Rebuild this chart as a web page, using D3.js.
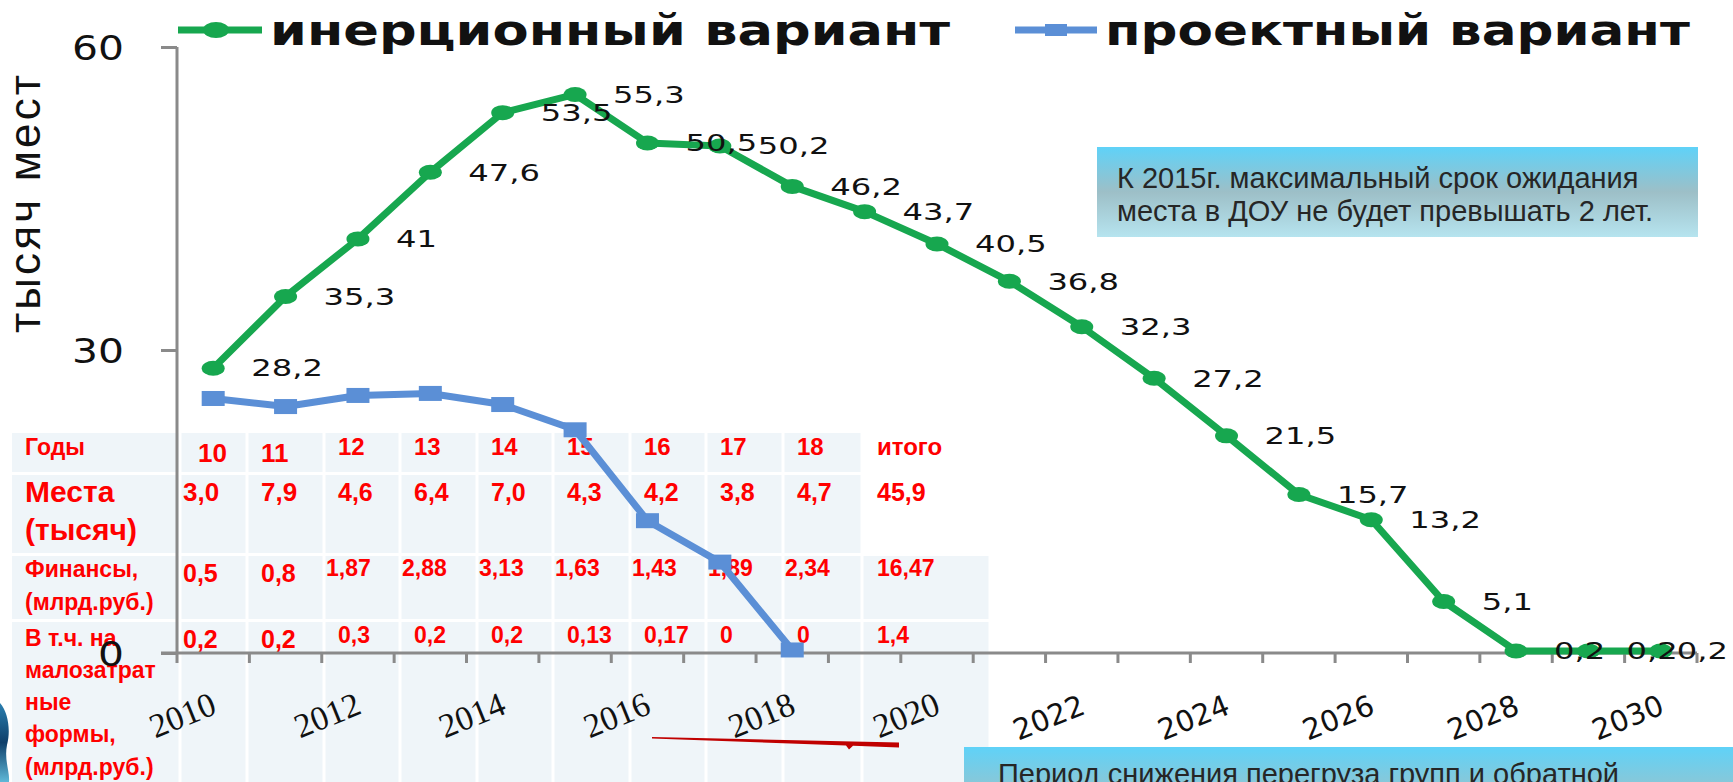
<!DOCTYPE html>
<html><head><meta charset="utf-8">
<script src="https://cdn.jsdelivr.net/npm/d3@7"></script>
<style>html,body{margin:0;padding:0;background:#fff;overflow:hidden}</style>
</head><body>
<svg id="c" width="1733" height="782" xmlns="http://www.w3.org/2000/svg"></svg>
<script>
// ---------------- DATA ----------------
const years = [2010,2011,2012,2013,2014,2015,2016,2017,2018,2019,2020,2021,2022,2023,2024,2025,2026,2027,2028,2029,2030];
const inertial = [28.2,35.3,41,47.6,53.5,55.3,50.5,50.2,46.2,43.7,40.5,36.8,32.3,27.2,21.5,15.7,13.2,5.1,0.2,0.2,0.2];
const projectYears = [2010,2011,2012,2013,2014,2015,2016,2017,2018];
const project = [25.2,24.4,25.5,25.7,24.6,22.1,13.1,9.0,0.3];
const seriesNames = ["инерционный вариант","проектный вариант"];
const yTicks = [0,30,60];
const xTickLabels = [2010,2012,2014,2016,2018,2020,2022,2024,2026,2028,2030];
const axisTitle = "тысяч  мест";

const tableRowLabels = [["Годы"],["Места","(тысяч)"],["Финансы,","(млрд.руб.)"],["В т.ч. на","малозатрат","ные","формы,","(млрд.руб.)"]];
const tableYears   = ["10","11","12","13","14","15","16","17","18","итого"];
const tablePlaces  = ["3,0","7,9","4,6","6,4","7,0","4,3","4,2","3,8","4,7","45,9"];
const tableFinance = ["0,5","0,8","1,87","2,88","3,13","1,63","1,43","1,89","2,34","16,47"];
const tableLowCost = ["0,2","0,2","0,3","0,2","0,2","0,13","0,17","0","0","1,4"];

const note1 = ["К 2015г. максимальный срок ожидания","места в ДОУ не будет превышать 2 лет."];
const note2 = ["Период снижения перегруза групп и обратной"];

// ---------------- LAYOUT ----------------
const svg = d3.select("#c");
const W = 1733, H = 782;
const X0 = 177, X1 = 1697, Y0 = 653, Ytop = 47;
const SX = 1.4;                 // horizontal stretch of chart texts
const GREEN = "#17a74f", BLUE = "#5b8fd6", AXIS = "#8a8a8a", RED = "#ff0000";
const chartFont = "DejaVu Sans, Verdana, sans-serif";
const tblFont = "Liberation Sans, Arial, sans-serif";
const serifFont = "Liberation Serif, Times New Roman, serif";

const x = d3.scaleBand().domain(years).range([X0, X1]).padding(0);
const y = d3.scaleLinear().domain([0, 60]).range([Y0, Ytop]);
const cx = d => x(d) + x.bandwidth() / 2;

const defs = svg.append("defs");
function grad(id, stops){
  const g = defs.append("linearGradient").attr("id", id).attr("x1",0).attr("y1",0).attr("x2",0).attr("y2",1);
  stops.forEach(s => g.append("stop").attr("offset", s[0]).attr("stop-color", s[1]));
}
grad("box1", [[0,"#5fd2f8"],[0.5,"#9dbfc7"],[1,"#b6e4ef"]]);
grad("box2", [[0,"#5fd2f8"],[1,"#86c8da"]]);
grad("deco", [[0,"#2a7fb0"],[0.5,"#0f3f6a"],[1,"#5fb8d8"]]);

// ---------------- TABLE (below chart) ----------------
const colEdges = [12,180,247,324,400,477,553,630,706,783,862,990];
const rowEdges = [433,473.5,554.5,620.5,800];
const tbl = svg.append("g").attr("class","table");
const cells = [];
for (let r = 0; r < 4; r++) for (let c = 0; c < 11; c++) {
  if (r < 2 && c === 10) continue;
  cells.push({r, c});
}
tbl.selectAll("rect").data(cells).join("rect")
  .attr("x", d => colEdges[d.c] + (d.c === 0 ? 0 : 1.5))
  .attr("y", d => rowEdges[d.r] + (d.r === 0 ? 0 : 1.5))
  .attr("width", d => colEdges[d.c+1] - colEdges[d.c] - (d.c === 0 ? 1.5 : 3))
  .attr("height", d => rowEdges[d.r+1] - rowEdges[d.r] - (d.r === 0 ? 1.5 : 3))
  .attr("fill", "#eff5f9");

const labelLayout = [
  {size:23, base:[455]},
  {size:30, base:[502,540]},
  {size:23, base:[577,610]},
  {size:23, base:[646,678,710,742,775]}
];
tableRowLabels.forEach((lines, r) => {
  lines.forEach((t, i) => {
    tbl.append("text").attr("x", 25).attr("y", labelLayout[r].base[i])
      .attr("font-family", tblFont).attr("font-weight","bold")
      .attr("font-size", labelLayout[r].size).attr("fill", RED).text(t);
  });
});
function rowValues(vals, opts){
  tbl.append("g").selectAll("text").data(vals).join("text")
    .attr("x", (d,i) => colEdges[i+1] + opts.pad(i))
    .attr("y", (d,i) => i < 2 ? opts.baseBig : opts.base)
    .attr("font-family", tblFont).attr("font-weight","bold")
    .attr("font-size", (d,i) => i < 2 ? opts.sizeBig : opts.size)
    .attr("fill", RED).text(d => d);
}
rowValues(tableYears,   {pad: i => i===0 ? 18 : (i===9 ? 15 : 14), base:455, baseBig:462, size:24, sizeBig:26});
rowValues(tablePlaces,  {pad: i => i===0 ? 3 : (i===9 ? 15 : 14), base:501, baseBig:501, size:25, sizeBig:26});
rowValues(tableFinance, {pad: i => i===0 ? 3 : (i===1 ? 14 : (i===9 ? 15 : 2)), base:576, baseBig:582, size:23, sizeBig:25});
rowValues(tableLowCost, {pad: i => i===0 ? 3 : (i===9 ? 15 : 14), base:643, baseBig:648, size:23, sizeBig:25});

// ---------------- NOTES ----------------
svg.append("rect").attr("x",1097).attr("y",147).attr("width",601).attr("height",90).attr("fill","url(#box1)");
note1.forEach((t,i) => svg.append("text").attr("x",1117).attr("y",188 + i*33)
  .attr("font-family", tblFont).attr("font-size",29).attr("fill","#262626").text(t));
svg.append("rect").attr("x",964).attr("y",747).attr("width",W-964).attr("height",H-747).attr("fill","url(#box2)");
note2.forEach((t,i) => svg.append("text").attr("x",998).attr("y",784 + i*33)
  .attr("font-family", tblFont).attr("font-size",29).attr("fill","#262626").text(t));

svg.append("path").attr("d","M0,703 C8,712 11,730 7,745 C4,760 10,772 9,782 L0,782 Z").attr("fill","url(#deco)");
svg.append("polygon")
  .attr("points","652,737 899,742.5 899,747.5 853,745.8 849,749.5 846,745.5 652,738.6")
  .attr("fill","#c00000");

// ---------------- AXES ----------------
const axG = svg.append("g");
const yAxis = d3.axisLeft(y).tickValues(yTicks).tickSize(16).tickFormat(d => d);
const yg = axG.append("g").attr("transform", `translate(${X0},0)`).call(yAxis);
yg.select(".domain").attr("stroke", AXIS).attr("stroke-width",3).attr("d", `M0,${Ytop}V${Y0}`);
yg.selectAll(".tick line").attr("stroke", AXIS).attr("stroke-width",3);
yg.selectAll(".tick text")
  .attr("font-family", chartFont).attr("font-size",34).attr("fill","#111")
  .attr("x", -53/1.2).attr("dy","0.36em").attr("text-anchor","end")
  .attr("transform","scale(1.2,1)");

axG.append("line").attr("x1", X0 - 16).attr("x2", X1).attr("y1", Y0).attr("y2", Y0)
  .attr("stroke", AXIS).attr("stroke-width",3);
const bounds = years.map(d => x(d)).concat([X1]);
axG.selectAll("line.xt").data(bounds).join("line").attr("class","xt")
  .attr("x1", d => d).attr("x2", d => d).attr("y1", Y0).attr("y2", Y0 + 10)
  .attr("stroke", AXIS).attr("stroke-width",3);

// x labels (rotated)
const xAxis = d3.axisBottom(x).tickValues(xTickLabels).tickSize(0).tickFormat(d => d);
const xg = axG.append("g").attr("transform", `translate(0,${Y0})`).call(xAxis);
xg.select(".domain").remove();
xg.selectAll(".tick text")
  .attr("font-family", d => d <= 2020 ? serifFont : chartFont)
  .attr("font-size", d => d <= 2020 ? 34 : 29)
  .attr("fill","#111")
  .attr("y", 0).attr("dy", 0).attr("text-anchor","end")
  .attr("transform", "translate(5,60) rotate(-22)");

// axis title
svg.append("text").attr("transform","translate(40,204) rotate(-90)")
  .attr("text-anchor","middle").attr("font-family", tblFont).attr("font-size",44)
  .attr("textLength",258).attr("lengthAdjust","spacing")
  .attr("fill","#111").text(axisTitle);

// ---------------- SERIES ----------------
const line = d3.line().x(d => cx(d.year)).y(d => y(d.v));
const gData = years.map((yr,i) => ({year: yr, v: inertial[i]}));
const bData = projectYears.map((yr,i) => ({year: yr, v: project[i]}));

svg.append("path").datum(bData).attr("d", line).attr("fill","none")
  .attr("stroke", BLUE).attr("stroke-width",7).attr("stroke-linejoin","round");
svg.selectAll("rect.bm").data(bData).join("rect").attr("class","bm")
  .attr("x", d => cx(d.year) - 11.5).attr("y", d => y(d.v) - 7.5)
  .attr("width",23).attr("height",15).attr("fill", BLUE);

svg.append("path").datum(gData).attr("d", line).attr("fill","none")
  .attr("stroke", GREEN).attr("stroke-width",7).attr("stroke-linejoin","round");
svg.selectAll("ellipse.gm").data(gData).join("ellipse").attr("class","gm")
  .attr("cx", d => cx(d.year)).attr("cy", d => y(d.v)).attr("rx",11.5).attr("ry",7.5).attr("fill", GREEN);

const fmt = v => String(v).replace(".", ",");
const lbl = svg.append("g").selectAll("text").data(gData).join("text")
  .attr("font-family", chartFont).attr("font-size",23).attr("fill","#111")
  .attr("dy","0.36em").text(d => fmt(d.v));
lbl.each(function(d){
  const w = this.getComputedTextLength() * SX;
  let lx = cx(d.year) + 38;
  if (lx + w > W - 5) lx = W - 5 - w;
  d3.select(this).attr("transform", `translate(${lx},${y(d.v)}) scale(${SX},1)`);
});

// ---------------- LEGEND ----------------
function fit(sel, x0, yb, width){
  const n = sel.node().getComputedTextLength();
  sel.attr("transform", `translate(${x0},${yb}) scale(${width/n},1)`);
}
const leg = svg.append("g");
leg.append("line").attr("x1",178).attr("x2",262).attr("y1",30).attr("y2",30).attr("stroke",GREEN).attr("stroke-width",7);
leg.append("ellipse").attr("cx",216).attr("cy",30).attr("rx",13).attr("ry",8).attr("fill",GREEN);
const t1 = leg.append("text").attr("font-family", chartFont).attr("font-weight","bold").attr("font-size",42).attr("fill","#111").text(seriesNames[0]);
fit(t1, 270, 45, 680);
leg.append("line").attr("x1",1015).attr("x2",1097).attr("y1",30).attr("y2",30).attr("stroke",BLUE).attr("stroke-width",7);
leg.append("rect").attr("x",1045).attr("y",24).attr("width",22).attr("height",12).attr("fill",BLUE);
const t2 = leg.append("text").attr("font-family", chartFont).attr("font-weight","bold").attr("font-size",42).attr("fill","#111").text(seriesNames[1]);
fit(t2, 1105, 45, 585);
</script>
</body></html>
